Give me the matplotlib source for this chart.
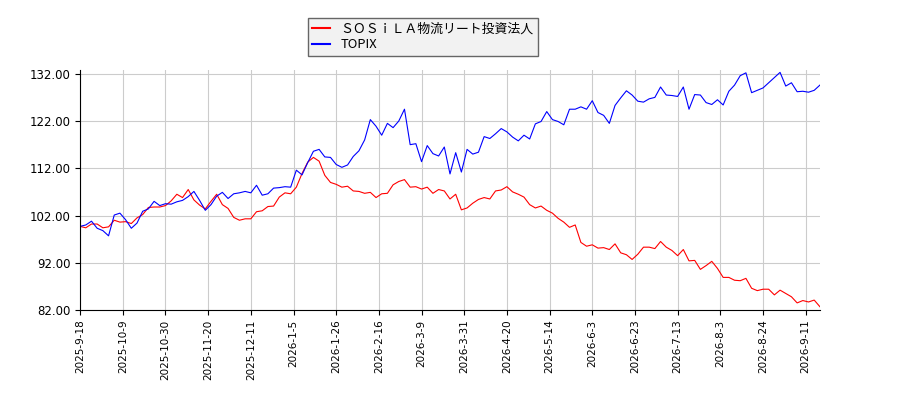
import numpy as np
import matplotlib
matplotlib.use("Agg")
import matplotlib.pyplot as plt

plt.rcParams['font.family'] = ['Noto Sans CJK JP', 'DejaVu Sans']

# trading-day step between stored values
step = 2

tick_labels = ['2025-9-18', '2025-10-9', '2025-10-30', '2025-11-20', '2025-12-11',
               '2026-1-5', '2026-1-26', '2026-2-16', '2026-3-9', '2026-3-31',
               '2026-4-20', '2026-5-14', '2026-6-3', '2026-6-23', '2026-7-13',
               '2026-8-3', '2026-8-24', '2026-9-11']
tick_every = 15

sosila = [99.7, 99.4, 100.2, 100.2, 99.4, 99.6, 101.0, 100.6, 100.7, 100.3,
          101.5, 102.2, 103.7, 103.8, 103.8, 104.1, 105.1, 106.5, 105.8, 107.5,
          105.3, 104.2, 103.4, 105.0, 106.5, 104.3, 103.5, 101.6, 101.0, 101.3,
          101.3, 102.8, 103.0, 103.9, 104.0, 105.9, 106.8, 106.6, 108.0, 110.9,
          113.3, 114.3, 113.5, 110.5, 109.0, 108.6, 108.0, 108.2, 107.2, 107.1,
          106.7, 106.9, 105.8, 106.6, 106.7, 108.5, 109.2, 109.6, 108.0, 108.1,
          107.6, 108.0, 106.7, 107.5, 107.2, 105.5, 106.5, 103.2, 103.6, 104.6,
          105.4, 105.8, 105.5, 107.2, 107.4, 108.1, 107.0, 106.5, 105.9, 104.3,
          103.6, 104.0, 103.1, 102.5, 101.4, 100.6, 99.5, 100.0, 96.3, 95.5,
          95.8, 95.1, 95.2, 94.8, 96.0, 94.1, 93.7, 92.7, 93.8, 95.3,
          95.3, 95.0, 96.5, 95.3, 94.6, 93.5, 94.8, 92.4, 92.5, 90.6,
          91.4, 92.3, 90.8, 88.9, 88.9, 88.3, 88.2, 88.7, 86.6, 86.1,
          86.4, 86.4, 85.2, 86.2, 85.5, 84.8, 83.5, 84.0, 83.7, 84.1,
          82.7]

topix = [99.7, 100.0, 100.8, 99.3, 98.8, 97.7, 102.1, 102.5, 101.1, 99.3,
         100.4, 102.9, 103.4, 105.0, 104.1, 104.5, 104.4, 104.9, 105.2, 106.0,
         107.1, 105.2, 103.1, 104.3, 106.1, 106.9, 105.6, 106.6, 106.8, 107.1,
         106.8, 108.4, 106.3, 106.6, 107.8, 107.9, 108.1, 108.0, 111.6, 110.6,
         113.2, 115.6, 116.0, 114.4, 114.3, 112.8, 112.2, 112.7, 114.5, 115.7,
         118.0, 122.3, 120.9, 119.0, 121.5, 120.6, 122.0, 124.5, 117.0, 117.2,
         113.4, 116.8, 115.1, 114.6, 116.5, 110.8, 115.3, 111.2, 116.0, 115.0,
         115.4, 118.7, 118.3, 119.3, 120.4, 119.7, 118.6, 117.8, 119.0, 118.2,
         121.4, 121.9, 124.0, 122.3, 121.9, 121.2, 124.5, 124.5, 125.0, 124.5,
         126.3, 123.8, 123.2, 121.5, 125.3, 126.9, 128.4, 127.5, 126.2, 126.0,
         126.7, 127.0, 129.2, 127.5, 127.4, 127.2, 129.2, 124.5, 127.6, 127.5,
         125.9, 125.5, 126.5, 125.4, 128.3, 129.6, 131.6, 132.2, 128.0, 128.5,
         129.0, 130.1, 131.2, 132.3, 129.4, 130.1, 128.2, 128.3, 128.1, 128.5,
         129.6]

x = np.arange(len(sosila)) * step

fig = plt.figure(figsize=(9, 4), dpi=100)
ax = fig.add_axes([0.089, 0.225, 0.822, 0.6])

ax.plot(x, sosila, color='red', lw=0.8, label='ＳＯＳｉＬＡ物流リート投資法人')
ax.plot(x, topix, color='blue', lw=0.8, label='TOPIX')

ax.set_xlim(0, x[-1])
ax.set_ylim(82, 132.8)
ax.set_yticks(np.arange(82, 133, 10))
ax.yaxis.set_major_formatter(matplotlib.ticker.FormatStrFormatter('%.2f'))
ax.set_xticks(np.arange(len(tick_labels)) * tick_every)
ax.set_xticklabels(tick_labels, rotation=90, fontsize=7.5, family='DejaVu Sans')
for t in ax.get_yticklabels():
    t.set_fontsize(8.5)
    t.set_family('DejaVu Sans')
ax.grid(color='#cccccc', lw=0.8)
ax.spines['top'].set_visible(False)
ax.spines['right'].set_visible(False)

leg = fig.legend(loc='upper center', bbox_to_anchor=(0.47, 0.972), fontsize=9.3,
                 fancybox=False, framealpha=1, facecolor='#f2f2f2', edgecolor='#666666',
                 handlelength=1.4, handletextpad=0.8, borderpad=0.35, labelspacing=0.25)
for line in leg.get_lines():
    line.set_linewidth(1.5)

fig.savefig('out.png', dpi=100)
